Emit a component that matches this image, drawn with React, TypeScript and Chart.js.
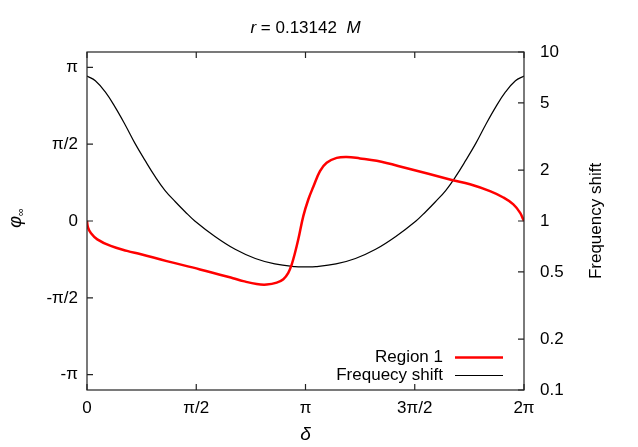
import React, { useEffect, useRef } from "react";
import { Chart, registerables } from "chart.js";

Chart.register(...registerables);

const PI = Math.PI;

// Region 1: phi_infinity (left axis, radians) vs delta
const deltaRegion = [
  0, 0.014, 0.053, 0.148, 0.341, 0.575, 0.776, 1.146, 1.625, 2.099, 2.247, 2.44,
  2.584, 2.728, 2.823, 2.894, 2.943, 2.991, 3.038, 3.11, 3.182, 3.254, 3.35, 3.446,
  3.59, 3.734, 3.925, 4.165, 4.572, 5.244, 5.507, 5.794, 5.986, 6.13, 6.226, 6.273,
  6.2832,
];
const phiRegion = [
  0, -0.13, -0.24, -0.375, -0.51, -0.61, -0.68, -0.82, -0.99, -1.17, -1.23, -1.29,
  -1.3, -1.26, -1.19, -1.06, -0.89, -0.65, -0.375, 0.1, 0.44, 0.7, 1.02, 1.19,
  1.29, 1.31, 1.28, 1.23, 1.09, 0.84, 0.75, 0.61, 0.48, 0.34, 0.17, 0.03,
  0,
];

// Frequency shift (right log axis) vs delta
const deltaFreq = [
  0, 0.12, 0.26, 0.4, 0.55, 0.69, 0.83, 0.98, 1.12, 1.27, 1.41, 1.55, 1.84, 2.13,
  2.42, 2.7, 2.99, 3.1416, 3.29, 3.58, 3.86, 4.15, 4.44, 4.73, 4.87, 5.01, 5.16,
  5.3, 5.45, 5.59, 5.73, 5.88, 6.02, 6.16, 6.2832,
];
const freqShift = [
  7.21, 6.76, 5.82, 4.75, 3.7, 2.88, 2.3, 1.83, 1.52, 1.3, 1.135, 1.0, 0.81, 0.68,
  0.6, 0.557, 0.537, 0.535, 0.537, 0.557, 0.6, 0.68, 0.81, 1.0, 1.135, 1.3, 1.52,
  1.83, 2.3, 2.88, 3.7, 4.75, 5.82, 6.76, 7.21,
];

const xTickValues = [0, PI / 2, PI, (3 * PI) / 2, 2 * PI];
const xTickLabels = ["0", "π/2", "π", "3π/2", "2π"];
const yTickValues = [-PI, -PI / 2, 0, PI / 2, PI];
const yTickLabels = ["-π", "-π/2", "0", "π/2", "π"];
const y2TickValues = [0.1, 0.2, 0.5, 1, 2, 5, 10];
const y2TickLabels = ["0.1", "0.2", "0.5", "1", "2", "5", "10"];
const seriesNames = ["Region 1", "Frequecy shift"];
const titleParts = [
  { text: "r", italic: true },
  { text: " = 0.13142  ", italic: false },
  { text: "M", italic: true },
];
const xTitle = "δ";
const yTitle = "φ";
const ySubTitle = "∞";
const y2Title = "Frequency shift";

const FAMILY = "'Liberation Sans', Arial, Helvetica, sans-serif";
const FS = 17;

function labelFor(values: number[], labels: string[], v: number): string {
  for (let i = 0; i < values.length; i++) {
    if (Math.abs(values[i] - v) < 1e-6 * Math.max(1, Math.abs(v))) return labels[i];
  }
  return "";
}

const decorPlugin = {
  id: "decor",
  afterDraw(chart: any) {
    const ctx = chart.ctx as CanvasRenderingContext2D;
    const a = chart.chartArea;
    const xs = chart.scales.x;
    const ys = chart.scales.y;
    const y2 = chart.scales.y2;
    ctx.save();
    ctx.strokeStyle = "#222";
    ctx.lineWidth = 1.2;
    ctx.strokeRect(a.left, a.top, a.right - a.left, a.bottom - a.top);
    const TL = 6;
    ctx.beginPath();
    xTickValues.forEach((v) => {
      const px = xs.getPixelForValue(v);
      ctx.moveTo(px, a.bottom);
      ctx.lineTo(px, a.bottom - TL);
      ctx.moveTo(px, a.top);
      ctx.lineTo(px, a.top + TL);
    });
    yTickValues.forEach((v) => {
      const py = ys.getPixelForValue(v);
      ctx.moveTo(a.left, py);
      ctx.lineTo(a.left + TL, py);
    });
    y2TickValues.forEach((v) => {
      const py = y2.getPixelForValue(v);
      ctx.moveTo(a.right, py);
      ctx.lineTo(a.right - TL, py);
    });
    ctx.stroke();

    ctx.fillStyle = "#000";
    // Title
    const cx = (a.left + a.right) / 2;
    let total = 0;
    const widths = titleParts.map((p) => {
      ctx.font = `${p.italic ? "italic " : ""}${FS}px ${FAMILY}`;
      const w = ctx.measureText(p.text).width;
      total += w;
      return w;
    });
    let tx = cx - total / 2;
    ctx.textBaseline = "alphabetic";
    ctx.textAlign = "left";
    titleParts.forEach((p, i) => {
      ctx.font = `${p.italic ? "italic " : ""}${FS}px ${FAMILY}`;
      ctx.fillText(p.text, tx, 33);
      tx += widths[i];
    });

    // x title
    ctx.font = `italic ${FS + 2}px ${FAMILY}`;
    ctx.textAlign = "center";
    ctx.fillText(xTitle, cx, 440);

    // left y title (rotated)
    ctx.save();
    ctx.translate(21, (a.top + a.bottom) / 2 - 3);
    ctx.rotate(-PI / 2);
    ctx.font = `italic ${FS + 1}px ${FAMILY}`;
    const w1 = ctx.measureText(yTitle).width;
    ctx.font = `${FS - 6}px ${FAMILY}`;
    const w2 = ctx.measureText(ySubTitle).width;
    const start = -(w1 + w2) / 2;
    ctx.textAlign = "left";
    ctx.font = `italic ${FS + 1}px ${FAMILY}`;
    ctx.fillText(yTitle, start, 0);
    ctx.font = `${FS - 6}px ${FAMILY}`;
    ctx.fillText(ySubTitle, start + w1, 3);
    ctx.restore();

    // right y title
    ctx.save();
    ctx.translate(601, (a.top + a.bottom) / 2);
    ctx.rotate(-PI / 2);
    ctx.font = `${FS}px ${FAMILY}`;
    ctx.textAlign = "center";
    ctx.textBaseline = "alphabetic";
    ctx.fillText(y2Title, 0, 0);
    ctx.restore();

    // Legend
    ctx.font = `${FS}px ${FAMILY}`;
    ctx.textAlign = "right";
    ctx.textBaseline = "middle";
    const rows = [
      { name: seriesNames[0], color: "#ff0000", lw: 2.5, y: 357.5 },
      { name: seriesNames[1], color: "#000000", lw: 1.2, y: 375.5 },
    ];
    rows.forEach((r) => {
      ctx.fillStyle = "#000";
      ctx.fillText(r.name, 443, r.y);
      ctx.strokeStyle = r.color;
      ctx.lineWidth = r.lw;
      ctx.beginPath();
      ctx.moveTo(455, r.y);
      ctx.lineTo(503, r.y);
      ctx.stroke();
    });
    ctx.restore();
  },
};

export default function App() {
  const ref = useRef<HTMLCanvasElement | null>(null);
  useEffect(() => {
    if (!ref.current) return;
    const chart = new Chart(ref.current, {
      type: "line",
      data: {
        datasets: [
          {
            label: seriesNames[0],
            data: deltaRegion.map((d, i) => ({ x: d, y: phiRegion[i] })),
            borderColor: "#ff0000",
            borderWidth: 2.5,
            pointRadius: 0,
            tension: 0.4,
            yAxisID: "y",
            fill: false,
          },
          {
            label: seriesNames[1],
            data: deltaFreq.map((d, i) => ({ x: d, y: freqShift[i] })),
            borderColor: "#000000",
            borderWidth: 1.2,
            pointRadius: 0,
            tension: 0.4,
            yAxisID: "y2",
            fill: false,
          },
        ],
      },
      options: {
        animation: false,
        responsive: false,
        devicePixelRatio: 1,
        layout: { padding: { top: 52, left: 0, right: 0, bottom: 0 } },
        plugins: {
          legend: { display: false },
          title: { display: false },
          tooltip: { enabled: false },
        },
        events: [],
        scales: {
          x: {
            type: "linear",
            min: 0,
            max: 2 * PI,
            grid: { display: false, drawTicks: false },
            border: { display: false },
            afterBuildTicks: (s: any) => {
              s.ticks = xTickValues.map((v) => ({ value: v }));
            },
            afterFit: (s: any) => {
              s.height = 57;
            },
            ticks: {
              padding: 8,
              color: "#000",
              font: { family: FAMILY, size: FS },
              maxRotation: 0,
              autoSkip: false,
              callback: (v: any) => labelFor(xTickValues, xTickLabels, Number(v)),
            },
          },
          y: {
            type: "linear",
            position: "left",
            min: -1.1 * PI,
            max: 1.1 * PI,
            grid: { display: false, drawTicks: false },
            border: { display: false },
            afterBuildTicks: (s: any) => {
              s.ticks = yTickValues.map((v) => ({ value: v }));
            },
            afterFit: (s: any) => {
              s.width = 87;
            },
            ticks: {
              padding: 9,
              color: "#000",
              font: { family: FAMILY, size: FS },
              autoSkip: false,
              callback: (v: any) => labelFor(yTickValues, yTickLabels, Number(v)),
            },
          },
          y2: {
            type: "logarithmic",
            position: "right",
            min: 0.1,
            max: 10,
            grid: { display: false, drawTicks: false },
            border: { display: false },
            afterBuildTicks: (s: any) => {
              s.ticks = y2TickValues.map((v) => ({ value: v }));
            },
            afterFit: (s: any) => {
              s.width = 114;
            },
            ticks: {
              padding: 16,
              color: "#000",
              font: { family: FAMILY, size: FS },
              autoSkip: false,
              callback: (v: any) => labelFor(y2TickValues, y2TickLabels, Number(v)),
            },
          },
        },
      } as any,
      plugins: [decorPlugin],
    });
    return () => chart.destroy();
  }, []);
  return (
    <div style={{ position: "absolute", left: 0, top: 0, width: 638, height: 447, background: "#fff" }}>
      <canvas ref={ref} width={638} height={447} style={{ display: "block" }} />
    </div>
  );
}
